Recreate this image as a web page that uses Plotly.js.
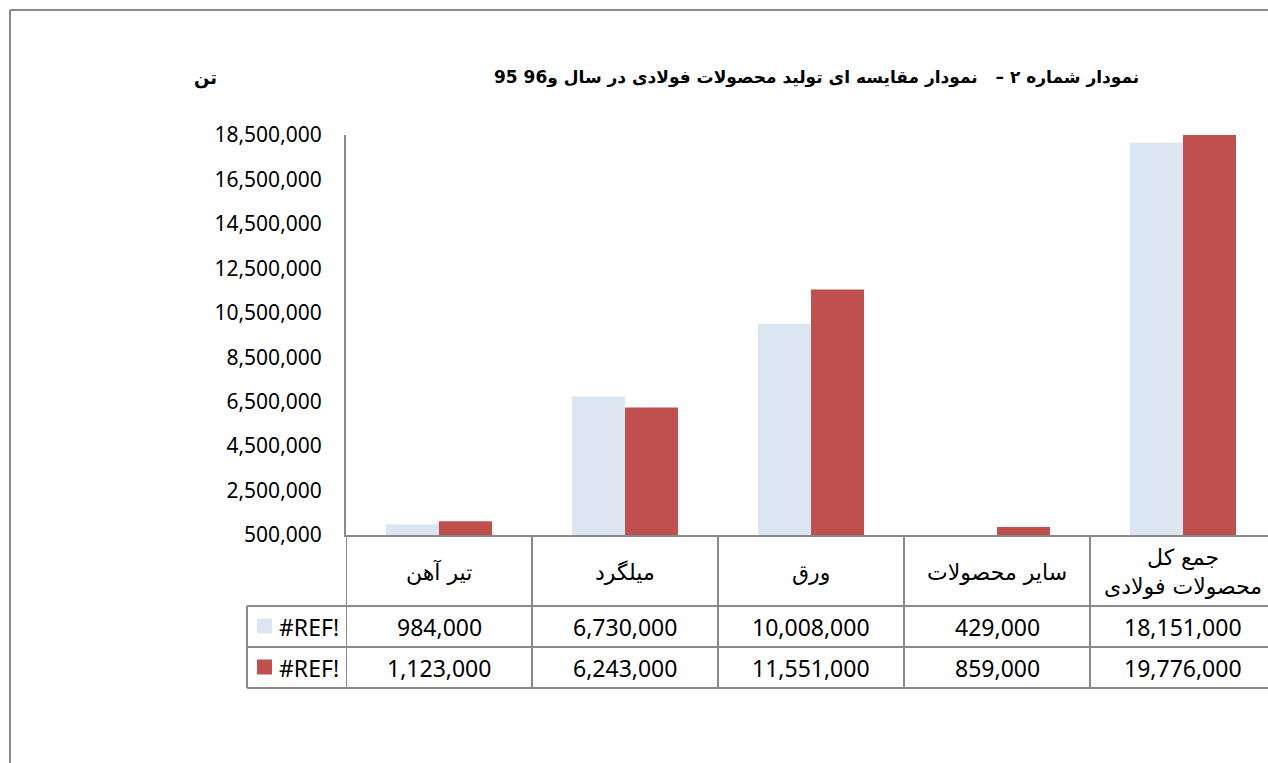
<!DOCTYPE html>
<html><head><meta charset="utf-8">
<script src="https://cdn.plot.ly/plotly-3.0.1.min.js"></script>
<style>html,body{margin:0;padding:0;overflow:hidden;background:#fff;width:1268px;height:763px}#chart{width:1290px;height:763px}</style>
</head><body><div id="chart"></div><script>
// ---- data ----
const categories = ["تیر آهن", "میلگرد", "ورق", "سایر محصولات", "جمع کل<br>محصولات فولادی"];
const seriesNames = ["#REF!", "#REF!"];
const values95 = [984000, 6730000, 10008000, 429000, 18151000];
const values96 = [1123000, 6243000, 11551000, 859000, 19776000];
const yAxisMin = 500000, yAxisMax = 18500000, yAxisStep = 2000000;
const titleText = "نمودار شماره ۲ –   نمودار مقایسه ای تولید محصولات فولادی در سال و96 95";
const unitText = "تن";

// ---- geometry / style ----
const W = 1290, H = 763, L = 346, R = 14, T = 135, B = 228;
const PW = W - L - R, PH = H - T - B;
const xp = px => (px - L) / PW;
const yp = py => (H - B - py) / PH;
const colors = ["#DCE6F2", "#C0504D"];
const lineCol = "#8A8A8A";
const axisFont = {family: "Noto Sans, DejaVu Sans, sans-serif", size: 21, color: "#000"};
const numFont = {family: "Noto Sans, DejaVu Sans, sans-serif", size: 23, color: "#000"};
const arFont = {family: "DejaVu Sans, Noto Sans, sans-serif", size: 22, color: "#000"};

const fmt = v => v.toLocaleString("en-US");
const allSeries = [values95, values96];

const traces = allSeries.map((vals, i) => ({
  type: "bar", x: categories, y: vals, name: seriesNames[i],
  marker: {color: colors[i], line: {width: 0}},
  hoverinfo: "none", showlegend: false
}));

const shapes = [];
const line = (x0, y0, x1, y1, xref) => shapes.push({type: "line", xref: xref || "paper", yref: "paper",
  x0: x0, y0: y0, x1: x1, y1: y1, line: {color: lineCol, width: 2}});
// outer frame
line(xp(10), yp(770), xp(10), yp(10));
line(xp(10), yp(10), xp(1300), yp(10));
// table horizontal lines
[606, 647, 688].forEach(py => line(xp(247), yp(py), xp(1300), yp(py)));
// table vertical lines
line(-0.5, yp(535), -0.5, yp(688), "x");
for (let i = 0; i < categories.length - 1; i++) line(i + 0.5, yp(535), i + 0.5, yp(688), "x");
line(xp(247), yp(606), xp(247), yp(688));

const annotations = [];
// title & unit
annotations.push({xref: "paper", yref: "paper", x: xp(1141), y: yp(78), xanchor: "right", yanchor: "middle",
  text: "<b>" + titleText + "</b>", showarrow: false, font: {family: "DejaVu Sans, sans-serif", size: 17, color: "#000"}});
annotations.push({xref: "paper", yref: "paper", x: xp(205), y: yp(78), xanchor: "center", yanchor: "middle",
  text: "<b>" + unitText + "</b>", showarrow: false, font: {family: "DejaVu Sans, sans-serif", size: 18, color: "#000"}});
// category labels
categories.forEach((c, i) => annotations.push({xref: "x", yref: "paper", x: c, y: yp(572), xanchor: "center", yanchor: "middle",
  text: c, showarrow: false, font: arFont}));
// table values + legend
const rowY = [626.5, 667.5];
allSeries.forEach((vals, s) => {
  vals.forEach((v, i) => annotations.push({xref: "x", yref: "paper", x: categories[i], y: yp(rowY[s]), xanchor: "center", yanchor: "middle",
    text: fmt(v), showarrow: false, font: numFont}));
  shapes.push({type: "rect", xref: "paper", yref: "paper", x0: xp(257), x1: xp(272), y0: yp(rowY[s] - 8), y1: yp(rowY[s] + 7),
    fillcolor: colors[s], line: {width: 0}});
  annotations.push({xref: "paper", yref: "paper", x: xp(277), y: yp(rowY[s]), xanchor: "left", yanchor: "middle",
    text: seriesNames[s], showarrow: false, font: numFont});
});

const tickvals = [];
for (let v = yAxisMin; v <= yAxisMax; v += yAxisStep) tickvals.push(v);

const layout = {
  width: W, height: H,
  margin: {l: L, r: R, t: T, b: B, pad: 0},
  paper_bgcolor: "#fff", plot_bgcolor: "#fff",
  barmode: "group", bargap: 0.43, bargroupgap: 0,
  xaxis: {type: "category", showticklabels: false, ticks: "", showgrid: false, zeroline: false,
    showline: true, linecolor: lineCol, linewidth: 2, range: [-0.5, categories.length - 0.5], fixedrange: true},
  yaxis: {range: [yAxisMin, yAxisMax], tickvals: tickvals, ticktext: tickvals.map(fmt), ticks: "",
    showgrid: false, zeroline: false, showline: true, linecolor: lineCol, linewidth: 2,
    tickfont: axisFont, ticklabelstandoff: 18, fixedrange: true},
  shapes: shapes, annotations: annotations, showlegend: false
};
Plotly.newPlot("chart", traces, layout, {displayModeBar: false, staticPlot: true});
</script></body></html>
